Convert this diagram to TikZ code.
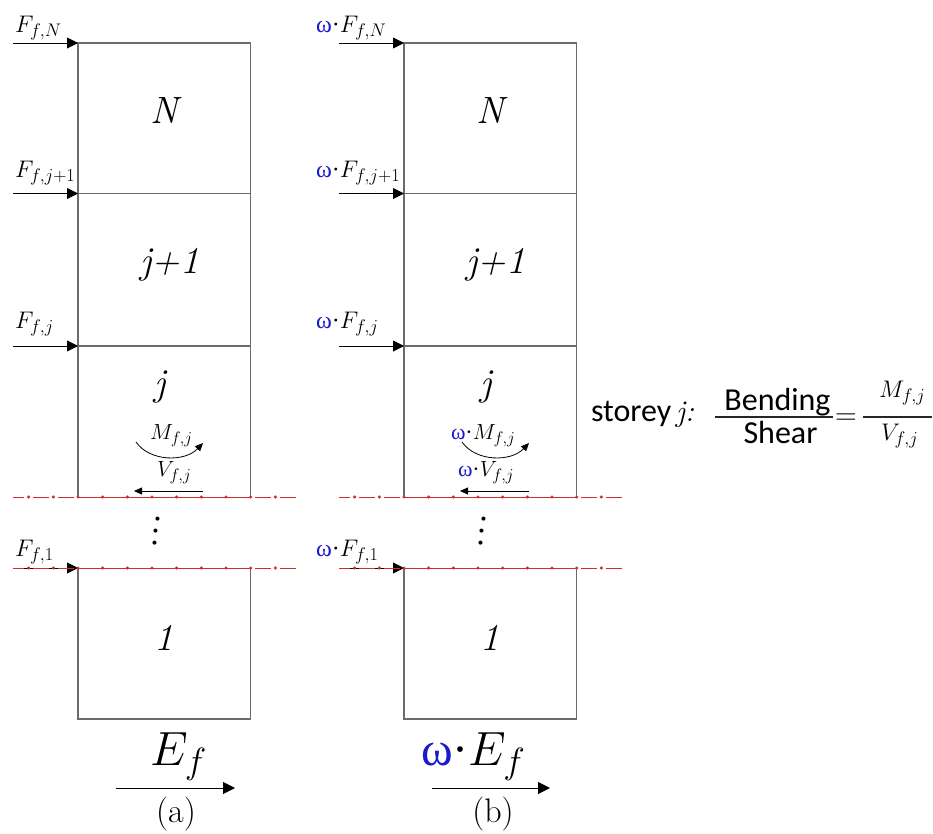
\RequirePackage{fix-cm}
\documentclass[tikz,border=0pt]{standalone}
\usepackage{amsmath}
\usepackage{fontspec}
\newfontfamily\carl{Carlito}
\newfontfamily\lserif{Liberation Serif}
\renewcommand{\defaultscriptratio}{.76}
\usetikzlibrary{arrows.meta}
\definecolor{framegray}{gray}{0.42}
\definecolor{wblue}{RGB}{25,25,205}
\definecolor{cutred}{RGB}{210,45,45}
\newcommand{\om}{\text{\lserif{\color{wblue}ω}·}}
\tikzset{
  frameline/.style={draw=framegray, line width=1.1pt},
  force/.style={-{Triangle[length=11pt,width=11pt]}, line width=0.9pt},
  bigarrow/.style={-{Triangle[length=12pt,width=12pt]}, line width=0.9pt},
  smallarrow/.style={-{Triangle[length=8pt,width=7pt]}, line width=0.8pt},
  baselab/.style={anchor=base west, inner sep=0pt, outer sep=0pt},
  flab/.style={baselab, font=\fontsize{24}{28}\selectfont},
  mlab/.style={baselab, font=\fontsize{22}{26}\selectfont},
  storeylab/.style={anchor=base, inner sep=0pt, font=\fontsize{38}{44}\selectfont\itshape},
  caplab/.style={anchor=base, inner sep=0pt, font=\rmfamily\fontsize{34}{40}\selectfont},
  cutline/.style={draw=cutred, line width=0.9pt},
  cutdash/.style={cutline, dash pattern=on 16pt off 8.67pt, dash phase=20.34pt},
  sanslab/.style={inner sep=0pt, outer sep=0pt, font=\carl\fontsize{32}{36}\selectfont},
  fracbar/.style={draw=black!85, line width=1.1pt},
}
\newcommand{\cutat}[2]{%
  \coordinate (#2L) at (78,#1); \coordinate (#2R) at (250.7,#1);
  \coordinate (#2a) at (13,#1); \coordinate (#2b) at (296,#1);
  \draw[cutline] (#2L) -- (#2R);
  \draw[cutdash] (#2L) -- (#2a);
  \draw[cutdash] (#2R) -- (#2b);
  \foreach \k in {-2,...,8} \fill[cutred] (78+24.67*\k,#1) circle (1.7pt);
}
\newcommand{\panel}[6]{%
\begin{scope}[xshift=#1]
  % frame
  \draw[frameline] (78,497) -- (78,43) -- (250.7,43) -- (250.7,497);
  \draw[frameline] (78,193.5) -- (250.7,193.5);
  \draw[frameline] (78,346) -- (250.7,346);
  \draw[frameline] (78,568) -- (78,719) -- (250.7,719) -- (250.7,568);
  % storey forces
  \coordinate (fNa#6) at (13,43);    \coordinate (fNb#6) at (78,43);
  \coordinate (fJpa#6) at (13,193.5);\coordinate (fJpb#6) at (78,193.5);
  \coordinate (fJa#6) at (13,346);   \coordinate (fJb#6) at (78,346);
  \coordinate (f1a#6) at (13,568);   \coordinate (f1b#6) at (78,568);
  \draw[force] (fNa#6) -- (fNb#6);
  \draw[force] (fJpa#6) -- (fJpb#6);
  \draw[force] (fJa#6) -- (fJb#6);
  \draw[force] (f1a#6) -- (f1b#6);
  \node[flab] (lN#6) at (#3,32) {$#2F_{f,N}$};
  \node[flab] (lJp#6) at (#3,177) {$#2F_{f,j+1}$};
  \node[flab] (lJ#6) at (#3,328) {$#2F_{f,j}$};
  \node[flab] (l1#6) at (#3,556) {$#2F_{f,1}$};
  % storey names
  \node[storeylab] (sN#6) at (164,123) {N};
  \node[storeylab] (sJp#6) at (170,273) {j+1};
  \node[storeylab] (sJ#6) at (160,395) {j};
  \node[storeylab] (s1#6) at (164,650) {1};
  % moment and shear
  \coordinate (m0#6) at (136,442); \coordinate (m1#6) at (203,443);
  \draw[smallarrow] (m0#6) .. controls (150,462) and (185,462) .. (m1#6);
  \node[mlab] (ml#6) at (#4,439) {$#2M_{f,j}$};
  \coordinate (v0#6) at (203,491); \coordinate (v1#6) at (134,491);
  \draw[smallarrow] (v0#6) -- (v1#6);
  \node[mlab] (vl#6) at (#5,476) {$#2V_{f,j}$};
  % cut lines
  \cutat{497}{cA#6}
  \cutat{568}{cB#6}
  \node[rotate=-97, inner sep=0pt, font=\rmfamily\bfseries\fontsize{28}{30}\selectfont] (dots#6) at (156,531) {.\kern3.5pt.\kern3.5pt.};
\end{scope}}

\begin{document}
\begin{tikzpicture}[x=1pt, y=-1pt]
\fill[white] (0,0) rectangle (933,833);
\useasboundingbox (0,0) rectangle (933,833);

\panel{0pt}{}{15}{150}{157}{a}
\panel{326pt}{\om}{-10}{125}{132}{b}

% bottom labels
\node[baselab, font=\fontsize{48}{54}\selectfont] (Ea) at (150,765) {$E_f$};
\node[baselab, font=\fontsize{48}{54}\selectfont] (Eb) at (421,765) {$\om E_f$};
\coordinate (ea0) at (116,788); \coordinate (ea1) at (235,788);
\coordinate (eb0) at (432,788); \coordinate (eb1) at (550,788);
\draw[bigarrow] (ea0) -- (ea1);
\draw[bigarrow] (eb0) -- (eb1);
\node[caplab] (capa) at (176,822) {(a)};
\node[caplab] (capb) at (493,822) {(b)};

% ratio
\node[sanslab, anchor=base west] (storey) at (591,421) {storey};
\node[baselab, font=\fontsize{30}{34}\selectfont\itshape] (sj) at (676,421) {j:};
\node[sanslab, anchor=base] (bend) at (777.5,410) {Bending};
\node[sanslab, anchor=base] (shear) at (780.5,443) {Shear};
\coordinate (bar1a) at (715,417); \coordinate (bar1b) at (833,417);
\draw[fracbar] (bar1a) -- (bar1b);
\node[anchor=base, inner sep=0pt, font=\fontsize{30}{34}\selectfont] (eq) at (846,424.5) {$=$};
\coordinate (bar2a) at (863,417); \coordinate (bar2b) at (932,417);
\draw[fracbar] (bar2a) -- (bar2b);
\node[baselab, font=\fontsize{24}{28}\selectfont] (rM) at (879,397) {$M_{f,j}$};
\node[baselab, font=\fontsize{24}{28}\selectfont] (rV) at (881,440) {$V_{f,j}$};
\end{tikzpicture}
\end{document}
